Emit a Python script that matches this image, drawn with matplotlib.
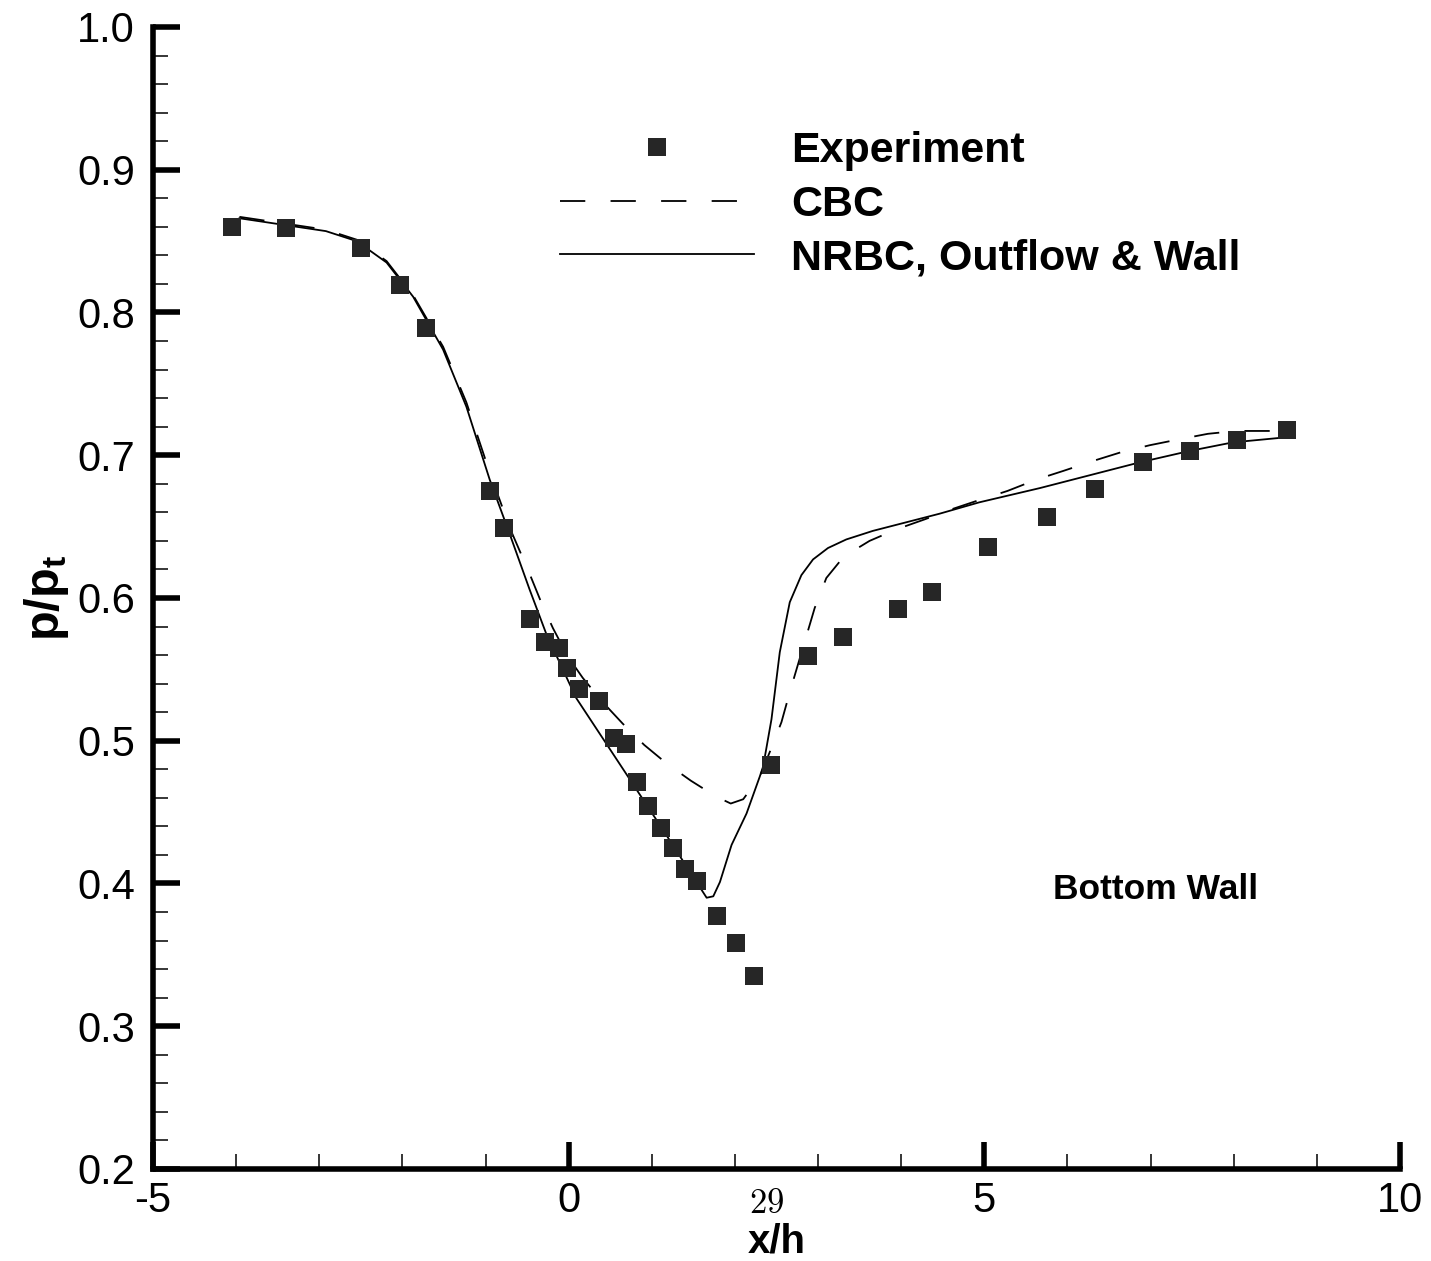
import matplotlib
matplotlib.use("Agg")
import matplotlib.pyplot as plt
from matplotlib.ticker import MultipleLocator, FormatStrFormatter
from matplotlib.lines import Line2D

# experiment, bottom wall
exp_x = [-4.05, -3.40, -2.50, -2.03, -1.71, -0.95, -0.78, -0.47, -0.29, -0.11,
         -0.02, 0.12, 0.37, 0.54, 0.69, 0.82, 0.96, 1.11, 1.25, 1.40,
         1.54, 1.78, 2.01, 2.23, 2.43, 2.88, 3.30, 3.96, 4.37, 5.05,
         5.75, 6.33, 6.91, 7.47, 8.04, 8.64]
exp_y = [0.860, 0.859, 0.845, 0.819, 0.789, 0.675, 0.649, 0.585, 0.569, 0.565,
         0.551, 0.536, 0.528, 0.502, 0.498, 0.471, 0.454, 0.439, 0.425, 0.410,
         0.402, 0.377, 0.358, 0.335, 0.483, 0.559, 0.573, 0.592, 0.604, 0.636,
         0.657, 0.676, 0.695, 0.703, 0.711, 0.718]

# CBC
cbc_x = [-3.96, -2.92, -2.55, -2.19, -1.87, -1.51, -1.23, -0.95, -0.70, -0.47,
         -0.33, -0.19, -0.01, 0.17, 0.41, 0.65, 0.91, 1.18, 1.47, 1.77,
         1.95, 2.10, 2.30, 2.44, 2.56, 2.66, 2.96, 3.10, 3.31, 3.62,
         3.94, 4.28, 4.60, 4.96, 5.28, 5.63, 5.95, 6.31, 6.64, 6.99,
         7.33, 7.69, 8.03, 8.39, 8.55]
cbc_y = [0.867, 0.858, 0.851, 0.836, 0.812, 0.776, 0.737, 0.688, 0.648, 0.617,
         0.597, 0.579, 0.559, 0.544, 0.527, 0.512, 0.497, 0.484, 0.472, 0.461,
         0.456, 0.459, 0.475, 0.495, 0.513, 0.534, 0.593, 0.614, 0.629, 0.640,
         0.648, 0.655, 0.662, 0.669, 0.675, 0.683, 0.689, 0.696, 0.702, 0.707,
         0.711, 0.715, 0.717, 0.717, 0.717]

# NRBC, outflow & wall
nrbc_x = [-3.96, -2.92, -2.55, -2.19, -1.87, -1.51, -1.23, -0.95, -0.71, -0.47,
          -0.27, 0.09, 0.69, 1.13, 1.66, 1.74, 1.82, 1.96, 2.14, 2.30,
          2.34, 2.44, 2.54, 2.66, 2.80, 2.94, 3.12, 3.34, 3.66, 4.06,
          4.46, 4.94, 5.67, 6.27, 6.87, 7.47, 7.99, 8.53]
nrbc_y = [0.866, 0.857, 0.850, 0.835, 0.811, 0.774, 0.734, 0.683, 0.645, 0.606,
          0.575, 0.530, 0.477, 0.438, 0.390, 0.391, 0.401, 0.427, 0.449, 0.475,
          0.482, 0.515, 0.562, 0.597, 0.616, 0.627, 0.635, 0.641, 0.647, 0.653,
          0.659, 0.667, 0.677, 0.686, 0.695, 0.703, 0.709, 0.712]

labels = ["Experiment", "CBC", "NRBC, Outflow & Wall"]

plt.rcParams['font.family'] = ['Liberation Sans', 'DejaVu Sans']
plt.rcParams['axes.unicode_minus'] = False
plt.rcParams['mathtext.fontset'] = 'custom'
plt.rcParams['mathtext.rm'] = 'Liberation Sans'
plt.rcParams['mathtext.bf'] = 'Liberation Sans:bold'

fig = plt.figure(figsize=(14.31, 12.61), dpi=100)
ax = fig.add_axes([0.1069, 0.0730, 0.8714, 0.9056])

mk = '#262626'
ax.plot(exp_x, exp_y, 's', color=mk, markersize=13, markeredgewidth=0, zorder=3)
ax.plot(cbc_x, cbc_y, color='black', lw=1.3, dashes=(14, 14))
ax.plot(nrbc_x, nrbc_y, color='black', lw=1.3)

ax.set_xlim(-5, 10)
ax.set_ylim(0.2, 1.0)
ax.xaxis.set_major_locator(MultipleLocator(5))
ax.xaxis.set_minor_locator(MultipleLocator(1))
ax.yaxis.set_major_locator(MultipleLocator(0.1))
ax.yaxis.set_minor_locator(MultipleLocator(0.02))
ax.yaxis.set_major_formatter(FormatStrFormatter('%.1f'))

for s in ['top', 'right']:
    ax.spines[s].set_visible(False)
for s in ['left', 'bottom']:
    ax.spines[s].set_linewidth(4)

ax.tick_params(which='major', direction='in', length=19.5, width=4, labelsize=30)
ax.tick_params(which='minor', direction='in', length=10.8, width=1.1)
ax.tick_params(axis='x', which='major', pad=9)
ax.tick_params(axis='y', which='major', pad=13)

ax.set_xlabel('x/h', fontsize=29, fontweight='bold', labelpad=1)
ax.set_ylabel(r'$\mathbf{p/p_t}$', fontsize=35, labelpad=4)

handles = [
    Line2D([], [], ls='none', marker='s', color=mk, markersize=13, markeredgewidth=0),
    Line2D([], [], color='black', lw=1.3, dashes=(14, 14)),
    Line2D([], [], color='black', lw=1.3),
]
leg = ax.legend(handles, labels, loc='upper left', bbox_to_anchor=(0.3264, 0.909),
                frameon=False, prop={'weight': 'bold', 'size': 31},
                handlelength=4.5, handletextpad=0.86, labelspacing=0.32,
                borderpad=0, borderaxespad=0, numpoints=1)

ax.text(7.06, 0.3955, 'Bottom Wall', fontsize=25.5, fontweight='bold',
        ha='center', va='center')
ax.text(2.38, 0.1755, r'$29$', fontsize=25, ha='center', va='center',
        math_fontfamily='cm', clip_on=False)

fig.savefig('out.png', dpi=100)
